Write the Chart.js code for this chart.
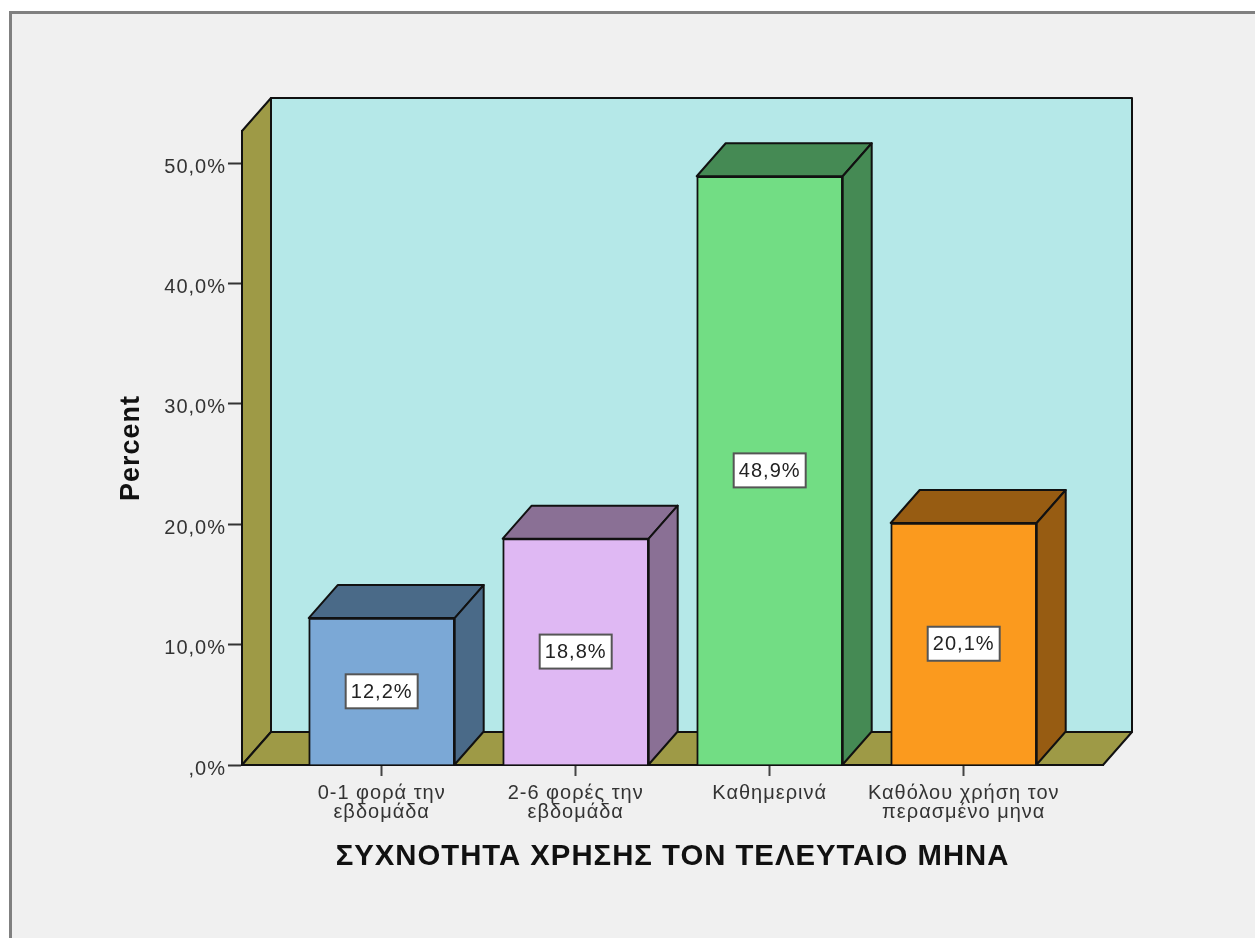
<!DOCTYPE html>
<html>
<head>
<meta charset="utf-8">
<title>ΣΥΧΝΟΤΗΤΑ ΧΡΗΣΗΣ</title>
<script src="https://cdn.jsdelivr.net/npm/chart.js@4/dist/chart.umd.min.js"></script>
<style>
  html, body { margin: 0; height: 100%; background: #fff; overflow: hidden; }
  #frame { position: absolute; left: 9px; top: 11px; right: 0; bottom: 0; background: #f0f0f0;
           border-left: 3px solid #808080; border-top: 3px solid #808080; }
  #chart { position: absolute; left: 0; top: 0; filter: blur(0.5px); }
</style>
</head>
<body>
<div id="frame"></div>
<canvas id="chart" width="1255" height="938"></canvas>
<script>
const categories = [['0-1 φορά την', 'εβδομάδα'], ['2-6 φορές την', 'εβδομάδα'], ['Καθημερινά'], ['Καθόλου χρήση τον', 'περασμένο μηνα']];
const percents = [12.2, 18.8, 48.9, 20.1];
const percentLabels = ['12,2%', '18,8%', '48,9%', '20,1%'];
const yTickLabels = [',0%', '10,0%', '20,0%', '30,0%', '40,0%', '50,0%'];
const frontColors = ['#7ba8d6', '#dfb8f3', '#72dd84', '#fb9a1e'];
const sideColors = ['#4a6a88', '#8a7095', '#458a54', '#975c12'];

const DEPTH_X = 29;
const DEPTH_Y = 33;
const FONT = '"Liberation Sans", Arial, sans-serif';

const polygon = (ctx, pts, fill) => {
  ctx.beginPath();
  pts.forEach((p, i) => (i ? ctx.lineTo(p[0], p[1]) : ctx.moveTo(p[0], p[1])));
  ctx.closePath();
  ctx.fillStyle = fill;
  ctx.fill();
  ctx.stroke();
};

// walls, floor and the depth faces of the bars
const box3d = {
  id: 'box3d',
  beforeDraw(chart) {
    // the reference text is stretched sideways
    chart.ctx.letterSpacing = '1px';
  },
  beforeDatasetsDraw(chart) {
    const { ctx, chartArea: a } = chart;
    ctx.save();
    ctx.lineWidth = 2;
    ctx.strokeStyle = '#111';
    ctx.lineJoin = 'round';
    polygon(ctx, [[a.left + DEPTH_X, a.top - DEPTH_Y], [a.right + DEPTH_X, a.top - DEPTH_Y],
      [a.right + DEPTH_X, a.bottom - DEPTH_Y], [a.left + DEPTH_X, a.bottom - DEPTH_Y]], '#b5e8e8');
    polygon(ctx, [[a.left, a.top], [a.left + DEPTH_X, a.top - DEPTH_Y],
      [a.left + DEPTH_X, a.bottom - DEPTH_Y], [a.left, a.bottom]], '#9e9a46');
    polygon(ctx, [[a.left, a.bottom], [a.left + DEPTH_X, a.bottom - DEPTH_Y],
      [a.right + DEPTH_X, a.bottom - DEPTH_Y], [a.right, a.bottom]], '#9e9a46');

    chart.getDatasetMeta(0).data.forEach((bar, i) => {
      const l = bar.x - bar.width / 2;
      const r = bar.x + bar.width / 2;
      polygon(ctx, [[l, bar.y], [l + DEPTH_X, bar.y - DEPTH_Y], [r + DEPTH_X, bar.y - DEPTH_Y], [r, bar.y]], sideColors[i]);
      polygon(ctx, [[r, bar.y], [r + DEPTH_X, bar.y - DEPTH_Y], [r + DEPTH_X, bar.base - DEPTH_Y], [r, bar.base]], sideColors[i]);
    });
    ctx.restore();
  },
  afterDatasetsDraw(chart) {
    const { ctx } = chart;
    ctx.save();
    ctx.font = '20px ' + FONT;
    ctx.textAlign = 'center';
    ctx.textBaseline = 'middle';
    chart.getDatasetMeta(0).data.forEach((bar, i) => {
      const cy = (bar.y + bar.base) / 2;
      ctx.fillStyle = '#fff';
      ctx.strokeStyle = '#555';
      ctx.lineWidth = 2;
      ctx.fillRect(bar.x - 36, cy - 17, 72, 34);
      ctx.strokeRect(bar.x - 36, cy - 17, 72, 34);
      ctx.fillStyle = '#222';
      ctx.fillText(percentLabels[i], bar.x, cy + 1);
    });
    ctx.restore();
  }
};

new Chart(document.getElementById('chart'), {
  type: 'bar',
  data: {
    datasets: [{
      data: percents.map((v, i) => ({ x: i, y: v })),
      backgroundColor: frontColors,
      borderColor: '#111',
      borderWidth: 2,
      barThickness: 146
    }]
  },
  plugins: [box3d],
  options: {
    responsive: false,
    animation: false,
    layout: { padding: { top: 131, right: 152 } },
    plugins: { legend: { display: false }, tooltip: { enabled: false } },
    scales: {
      x: {
        type: 'linear',
        offset: false,
        min: -0.72,
        max: 3.718,
        afterBuildTicks: (scale) => { scale.ticks = categories.map((c, i) => ({ value: i })); },
        afterFit: (scale) => { scale.height = 173; },
        grid: { offset: false, drawOnChartArea: false, tickLength: 11, tickColor: '#444', tickWidth: 2 },
        border: { color: '#111', width: 2 },
        ticks: {
          autoSkip: false,
          maxRotation: 0,
          padding: 8,
          color: '#333',
          font: { family: FONT, size: 20, lineHeight: 0.95 },
          callback: (value) => categories[value]
        },
        title: {
          display: true,
          text: 'ΣΥΧΝΟΤΗΤΑ ΧΡΗΣΗΣ ΤΟΝ ΤΕΛΕΥΤΑΙΟ ΜΗΝΑ',
          color: '#111',
          font: { family: FONT, size: 29.3, weight: 'bold', lineHeight: 1.2 },
          padding: { top: 0, bottom: 64 }
        }
      },
      y: {
        min: 0,
        max: 52.66,
        afterFit: (scale) => { scale.width = 242; },
        grid: { drawOnChartArea: false, tickLength: 14, tickColor: '#333', tickWidth: 2 },
        border: { color: '#111', width: 2 },
        ticks: {
          stepSize: 10,
          includeBounds: false,
          padding: 2,
          labelOffset: 4,
          color: '#333',
          font: { family: FONT, size: 20 },
          callback: (value) => yTickLabels[value / 10]
        },
        title: {
          display: true,
          text: 'Percent',
          color: '#111',
          font: { family: FONT, size: 27, weight: 'bold', lineHeight: 1.2 },
          padding: { top: 115, bottom: 0 }
        }
      }
    }
  }
});
</script>
</body>
</html>
